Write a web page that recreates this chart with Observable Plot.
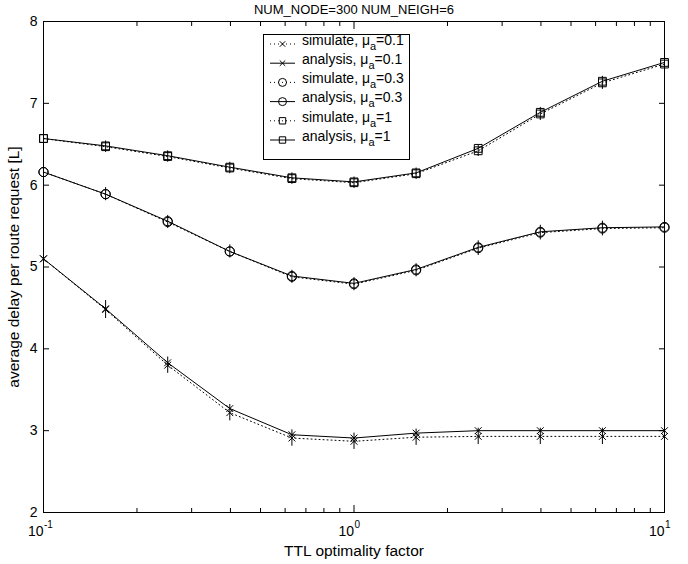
<!DOCTYPE html>
<html><head><meta charset="utf-8">
<script src="https://cdn.jsdelivr.net/npm/d3@7"></script>
<script src="https://cdn.jsdelivr.net/npm/@observablehq/plot@0.6"></script>
<style>body{margin:0;background:#fff} svg{display:block}</style>
</head><body><div id="chart"></div>
<script>
// TTL optimality factor (x, log scale)
const ttl = [0.1, 0.1585, 0.2512, 0.3981, 0.631, 1, 1.585, 2.512, 3.981, 6.31, 10];

// average delay per route request [L]
const anaMu01 = [5.10, 4.49, 3.83, 3.27, 2.95, 2.91, 2.97, 3.00, 3.00, 3.00, 3.00];
const simMu01 = [5.10, 4.48, 3.80, 3.22, 2.91, 2.87, 2.92, 2.93, 2.93, 2.93, 2.93];
const errMu01 = [0.10, 0.11, 0.10, 0.10, 0.10, 0.10, 0.10, 0.10, 0.10, 0.10, 0.10];

const anaMu03 = [6.16, 5.89, 5.56, 5.19, 4.89, 4.80, 4.97, 5.24, 5.43, 5.48, 5.49];
const simMu03 = [6.16, 5.89, 5.55, 5.19, 4.88, 4.79, 4.96, 5.23, 5.42, 5.47, 5.48];
const errMu03 = [0.08, 0.08, 0.08, 0.08, 0.08, 0.08, 0.08, 0.09, 0.09, 0.09, 0.08];

const anaMu1 = [6.57, 6.48, 6.36, 6.22, 6.09, 6.04, 6.15, 6.45, 6.89, 7.27, 7.50];
const simMu1 = [6.57, 6.47, 6.35, 6.21, 6.08, 6.03, 6.14, 6.42, 6.87, 7.25, 7.48];
const errMu1 = [0.07, 0.07, 0.07, 0.07, 0.07, 0.07, 0.07, 0.07, 0.08, 0.08, 0.07];

const yTicks = [2, 3, 4, 5, 6, 7, 8];
const xMajor = [0.1, 1, 10];
const xMinor = [0.2, 0.3, 0.4, 0.5, 0.6, 0.7, 0.8, 0.9, 2, 3, 4, 5, 6, 7, 8, 9];
const xExponents = ["-1", "0", "1"];

const titleText = "NUM_NODE=300 NUM_NEIGH=6";
const xLabel = "TTL optimality factor";
const yLabel = "average delay per route request [L]";

const legendItems = [
  {kind: "simulate", mu: "0.1", marker: "times"},
  {kind: "analysis", mu: "0.1", marker: "times"},
  {kind: "simulate", mu: "0.3", marker: "circle"},
  {kind: "analysis", mu: "0.3", marker: "circle"},
  {kind: "simulate", mu: "1", marker: "square"},
  {kind: "analysis", mu: "1", marker: "square"}
];

const markerR = {times: 3.2, circle: 4.6, square: 4.4};
const legendR = {times: 2.6, circle: 4.0, square: 3.6};

const seriesDefs = [
  {mu: "0.1", marker: "times", ana: anaMu01, sim: simMu01, err: errMu01},
  {mu: "0.3", marker: "circle", ana: anaMu03, sim: simMu03, err: errMu03},
  {mu: "1", marker: "square", ana: anaMu1, sim: simMu1, err: errMu1}
];

const anaRows = [], simRows = [];
for (const s of seriesDefs) {
  ttl.forEach((x, i) => {
    anaRows.push({x, y: s.ana[i], mu: s.mu, marker: s.marker});
    simRows.push({x, y: s.sim[i], err: s.err[i], mu: s.mu, marker: s.marker});
  });
}

const FONT = "'Liberation Sans', Arial, sans-serif";

const marks = [
  Plot.line(simRows, {x: "x", y: "y", z: "mu", stroke: "#000", strokeWidth: 1, strokeDasharray: "1,3"}),
  Plot.line(anaRows, {x: "x", y: "y", z: "mu", stroke: "#000", strokeWidth: 1}),
  Plot.ruleX(simRows, {x: "x", y1: d => d.y - d.err, y2: d => d.y + d.err, stroke: "#000", strokeWidth: 1}),
];
for (const m of ["times", "circle", "square"]) {
  marks.push(Plot.dot(simRows.filter(d => d.marker === m), {x: "x", y: "y", symbol: m, r: markerR[m], stroke: "#000", fill: "none", strokeWidth: 1}));
  marks.push(Plot.dot(anaRows.filter(d => d.marker === m), {x: "x", y: "y", symbol: m, r: markerR[m], stroke: "#000", fill: "none", strokeWidth: 1}));
}
marks.push(
  Plot.frame({stroke: "#000", strokeWidth: 1}),
  Plot.axisY({ticks: yTicks, tickSize: -6, tickPadding: 12, label: null, fontSize: 14, tickFormat: d => String(d)}),
  Plot.axisY({anchor: "right", ticks: yTicks, tickSize: -6, tickFormat: () => "", label: null}),
  Plot.axisX({ticks: xMajor, tickSize: -7, tickFormat: () => "", label: null}),
  Plot.axisX({anchor: "top", ticks: xMajor, tickSize: -7, tickFormat: () => "", label: null}),
  Plot.axisX({ticks: xMinor, tickSize: -4, tickFormat: () => "", label: null}),
  Plot.axisX({anchor: "top", ticks: xMinor, tickSize: -4, tickFormat: () => "", label: null}),
  Plot.text(xMajor, {x: d => d, text: () => "10", frameAnchor: "bottom", textAnchor: "end", lineAnchor: "middle", dy: 19, fontSize: 14}),
  Plot.text(xMajor, {x: d => d, text: (d, i) => xExponents[i], frameAnchor: "bottom", textAnchor: "start", lineAnchor: "middle", dy: 12, dx: 0.5, fontSize: 10}),
  Plot.text([xLabel], {frameAnchor: "bottom", textAnchor: "middle", lineAnchor: "middle", dy: 39, fontSize: 15.5}),
  Plot.text([yLabel], {frameAnchor: "left", textAnchor: "middle", rotate: -90, lineAnchor: "middle", dx: -29, fontSize: 15.5}),
  Plot.text([titleText], {frameAnchor: "top", textAnchor: "middle", lineAnchor: "middle", dy: -12, fontSize: 13})
);

const plot = Plot.plot({
  width: 688,
  height: 564,
  marginLeft: 43,
  marginRight: 24,
  marginTop: 21,
  marginBottom: 52,
  style: {fontFamily: FONT, fontSize: "14px", background: "#fff", color: "#000"},
  x: {type: "log", domain: [0.1, 10]},
  y: {domain: [2, 8]},
  marks
});

// Legend (inside plot, top centre), built with d3 on the Plot SVG
const svg = d3.select(plot);
const lg = svg.append("g").attr("font-family", FONT).attr("font-size", 14)
  .attr("fill", "#000").attr("text-anchor", "start");
lg.append("rect").attr("x", 263.5).attr("y", 34.5).attr("width", 146).attr("height", 125)
  .attr("fill", "#fff").attr("stroke", "#000").attr("stroke-width", 1);
const symType = {times: d3.symbolTimes, circle: d3.symbolCircle, square: d3.symbolSquare};
legendItems.forEach((it, i) => {
  const cy = 44 + i * 19.2;
  lg.append("line").attr("x1", 270).attr("x2", 295).attr("y1", cy).attr("y2", cy)
    .attr("stroke", "#000").attr("stroke-width", 1)
    .attr("stroke-dasharray", it.kind === "simulate" ? "1,3" : null);
  const r = legendR[it.marker];
  lg.append("path").attr("d", d3.symbol(symType[it.marker], Math.PI * r * r)())
    .attr("transform", `translate(282.5,${cy})`).attr("fill", "none").attr("stroke", "#000");
  const t = lg.append("text").attr("x", 302).attr("y", cy).attr("dy", "0.05em");
  t.append("tspan").text(`${it.kind}, μ`);
  t.append("tspan").attr("font-size", 11).attr("dy", 5).text("a");
  t.append("tspan").attr("dy", -5).text(`=${it.mu}`);
});

document.getElementById("chart").append(plot);
</script>
</body></html>
